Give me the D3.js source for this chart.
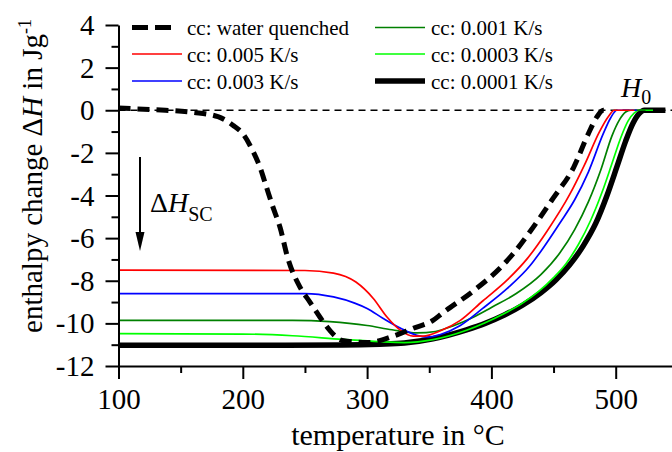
<!DOCTYPE html>
<html>
<head>
<meta charset="utf-8">
<script src="https://cdn.jsdelivr.net/npm/d3@7"></script>
<style>
  body { margin: 0; background: #fff; }
  svg { display: block; }
  text { font-family: "Liberation Serif", "Times New Roman", serif; fill: #000; }
</style>
</head>
<body>
<svg id="chart" width="672" height="452"></svg>
<script>
// Enthalpy change vs. temperature, [temperature °C, ΔH J/g]
const waterQuenched = [[100,0.1],[130,0.02],[160,-0.1],[180,-0.3],[192,-0.7],[200,-1.1],[208,-1.9],[214,-2.7],[219,-3.6],[224,-4.5],[230,-5.5],[236,-6.9],[246,-8.3],[254,-9.0],[262,-9.7],[270,-10.33],[280,-10.8],[300,-10.9],[321,-10.6],[337,-10.23],[353,-9.86],[361,-9.5],[385,-8.5],[407,-7.4],[418,-6.7],[431,-5.7],[450,-4.1],[466,-2.7],[478,-1.1],[485,-0.3],[490,0],[496,0]];
const rate0005 = [[100,-7.5],[250,-7.52],[273,-7.64],[291,-8.06],[305,-8.83],[316,-9.7],[327,-10.33],[337,-10.6],[345,-10.6],[359,-10.35],[375,-9.86],[393,-8.95],[413,-7.95],[429,-6.95],[445,-5.65],[463,-3.95],[475,-2.55],[487,-1.0],[494,-0.3],[499,0],[515,0]];
const rate0003 = [[100,-8.6],[250,-8.6],[273,-8.76],[290,-9.05],[300,-9.3],[313,-9.77],[327,-10.23],[340,-10.56],[348,-10.64],[359,-10.52],[375,-10.1],[393,-9.3],[413,-8.35],[431,-7.3],[440,-6.6],[455,-5.3],[467,-4.2],[478,-2.9],[490,-1.1],[496,-0.35],[501,0],[517,0]];
const rate0001 = [[100,-9.86],[240,-9.86],[270,-9.92],[300,-10.1],[320,-10.3],[340,-10.45],[355,-10.38],[370,-10.1],[385,-9.72],[400,-9.25],[420,-8.6],[440,-7.7],[455,-6.7],[467,-5.6],[478,-4.3],[488,-2.8],[497,-1.2],[503,-0.45],[508,-0.08],[512,0],[524,0]];
const rate00003 = [[100,-10.48],[200,-10.5],[240,-10.58],[280,-10.75],[310,-10.86],[330,-10.9],[353,-10.76],[380,-10.32],[395,-9.97],[410,-9.55],[425,-9.05],[438,-8.5],[450,-7.85],[460,-7.2],[470,-6.3],[480,-5.15],[489,-3.85],[497,-2.5],[504,-1.3],[510,-0.5],[515,-0.12],[519,0],[530,0]];
const rate00001 = [[100,-11.03],[200,-11.03],[280,-11.02],[310,-10.98],[330,-10.92],[353,-10.72],[380,-10.3],[395,-10.0],[410,-9.62],[425,-9.15],[440,-8.55],[452,-7.95],[463,-7.25],[474,-6.35],[484,-5.3],[493,-4.0],[501,-2.65],[508,-1.45],[514,-0.6],[519,-0.15],[523,0],[540,0]];

const seriesLabels = ["cc: water quenched", "cc: 0.005 K/s", "cc: 0.003 K/s", "cc: 0.001 K/s", "cc: 0.0003 K/s", "cc: 0.0001 K/s"];
const xTicks = [100, 200, 300, 400, 500];
const xMinorTicks = [150, 250, 350, 450];
const yTicks = [-12, -10, -8, -6, -4, -2, 0, 2, 4];
const yMinorTicks = [-11, -9, -7, -5, -3, -1, 1, 3];

const series = [
  { label: seriesLabels[5], data: rate00001, color: "#000", width: 5.5 },
  { label: seriesLabels[4], data: rate00003, color: "#00ff00", width: 1.7 },
  { label: seriesLabels[3], data: rate0001, color: "#008000", width: 1.7 },
  { label: seriesLabels[2], data: rate0003, color: "#0000ff", width: 1.7 },
  { label: seriesLabels[1], data: rate0005, color: "#ff0000", width: 1.7 },
  { label: seriesLabels[0], data: waterQuenched, color: "#000", width: 5, dash: "12,7" }
];

const svg = d3.select("#chart");
const x = d3.scaleLinear().domain([100, 550]).range([118.5, 118.5 + 4.5 * 124.3]);
const y = d3.scaleLinear().domain([-12, 4]).range([366, 25]);

// reference line at ΔH = 0 (H0)
svg.append("line")
  .attr("x1", x(100)).attr("x2", 672)
  .attr("y1", y(0)).attr("y2", y(0))
  .attr("stroke", "#000").attr("stroke-width", 1.3)
  .attr("stroke-dasharray", "7,5");

// curves
const line = d3.line().x(d => x(d[0])).y(d => y(d[1])).curve(d3.curveMonotoneX);
series.forEach(s => {
  svg.append("path")
    .attr("d", line(s.data))
    .attr("fill", "none")
    .attr("stroke", s.color)
    .attr("stroke-width", s.width)
    .attr("stroke-linejoin", "round")
    .attr("stroke-dasharray", s.dash || null);
});

// axes
function styleAxis(g) {
  g.selectAll("path.domain").attr("stroke", "#000").attr("stroke-width", 2);
  g.selectAll(".tick line").attr("stroke", "#000").attr("stroke-width", 2);
}
const gx = svg.append("g").attr("transform", `translate(0,${y(-12)})`)
  .call(d3.axisBottom(x).tickValues(xTicks).tickSize(13).tickSizeOuter(0).tickFormat(d => String(d)));
styleAxis(gx);
gx.selectAll("text").attr("font-size", 29).attr("y", 43).attr("dy", null)
  .style("font-family", '"Liberation Serif", serif');
const gxm = svg.append("g").attr("transform", `translate(0,${y(-12)})`)
  .call(d3.axisBottom(x).tickValues(xMinorTicks).tickSize(7).tickSizeOuter(0).tickFormat(""));
styleAxis(gxm);
gxm.select("path.domain").remove();

const gy = svg.append("g").attr("transform", `translate(${x(100)},0)`)
  .call(d3.axisLeft(y).tickValues(yTicks).tickSize(13).tickSizeOuter(0).tickFormat(d => String(d)));
styleAxis(gy);
gy.selectAll("text").attr("font-size", 29).attr("x", -24).attr("dy", "0.33em")
  .style("font-family", '"Liberation Serif", serif');
const gym = svg.append("g").attr("transform", `translate(${x(100)},0)`)
  .call(d3.axisLeft(y).tickValues(yMinorTicks).tickSize(7).tickSizeOuter(0).tickFormat(""));
styleAxis(gym);
gym.select("path.domain").remove();

// axis titles
svg.append("text")
  .attr("x", 398).attr("y", 445)
  .attr("text-anchor", "middle").attr("font-size", 30)
  .text("temperature in °C");

const yTitle = svg.append("text")
  .attr("transform", "translate(42,176) rotate(-90)")
  .attr("text-anchor", "middle").attr("font-size", 29);
yTitle.append("tspan").text("enthalpy change Δ");
yTitle.append("tspan").attr("font-style", "italic").text("H");
yTitle.append("tspan").text(" in Jg");
yTitle.append("tspan").attr("font-size", 18).attr("dy", -11).text("-1");

// legend: two columns of three entries
const legendRows = [27.5, 54, 81];
const legendCols = [{ x1: 132, x2: 182, tx: 187 }, { x1: 375, x2: 425, tx: 431 }];
const legendOrder = [5, 4, 3, 2, 1, 0]; // indices into series, in legend order
legendOrder.forEach((si, i) => {
  const s = series[si];
  const col = legendCols[Math.floor(i / 3)];
  const ry = legendRows[i % 3];
  svg.append("line")
    .attr("x1", col.x1).attr("x2", s.dash ? col.x1 + 39 : col.x2)
    .attr("y1", ry).attr("y2", ry)
    .attr("stroke", s.color).attr("stroke-width", s.width)
    .attr("stroke-dasharray", s.dash ? "16,7" : null);
  svg.append("text")
    .attr("x", col.tx).attr("y", ry + 7.5)
    .attr("font-size", 21)
    .text(s.label);
});

// ΔH_SC annotation arrow
svg.append("line")
  .attr("x1", 140).attr("x2", 140).attr("y1", 157).attr("y2", 236)
  .attr("stroke", "#000").attr("stroke-width", 2);
svg.append("path")
  .attr("d", "M135.5,232 L144.5,232 L140,251 Z")
  .attr("fill", "#000");
const dhsc = svg.append("text").attr("x", 150).attr("y", 212).attr("font-size", 28);
dhsc.append("tspan").text("Δ");
dhsc.append("tspan").attr("font-style", "italic").text("H");
dhsc.append("tspan").attr("font-size", 20).attr("dy", 9).text("SC");

// H0 label
const h0 = svg.append("text").attr("x", 621).attr("y", 97).attr("font-size", 28);
h0.append("tspan").attr("font-style", "italic").text("H");
h0.append("tspan").attr("font-size", 20).attr("dy", 7).text("0");
</script>
</body>
</html>
